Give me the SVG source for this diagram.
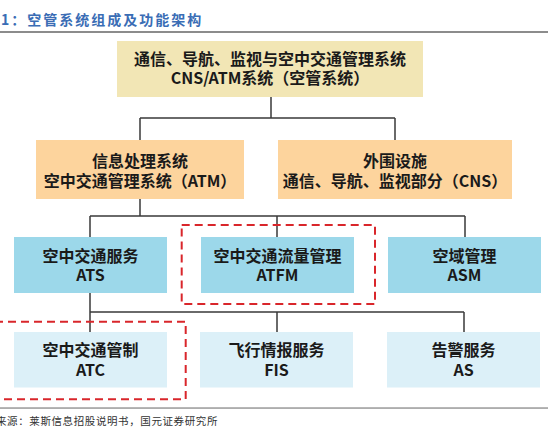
<svg xmlns="http://www.w3.org/2000/svg" width="548" height="435" viewBox="0 0 548 435">
<style>
.t{font-family:"Noto Sans CJK SC","Liberation Sans",sans-serif;font-weight:bold;font-size:16px;fill:#1a1a1a;text-anchor:middle}
.c{fill:none;stroke:#3a3a3a;stroke-width:1.5}
.d{fill:none;stroke:#d9262b;stroke-width:2;stroke-dasharray:8 5}
.title{font-family:"Noto Sans CJK SC","Liberation Sans",sans-serif;font-weight:bold;font-size:14px;fill:#3a6db5;letter-spacing:2px}
.src{font-family:"Noto Sans CJK SC","Liberation Sans",sans-serif;font-size:10.5px;fill:#333;letter-spacing:0.6px}
</style>
<rect width="548" height="435" fill="#fff"/>
<text class="title" x="1" y="25">1：空管系统组成及功能架构</text>
<rect x="0" y="31" width="548" height="2" fill="#8c8c8c"/>
<g id="connectors">
<path class="c" d="M271 97V118M140 118H395M140 118V140M395 118V140"/>
<path class="c" d="M140 199V216M90 216H465M90 216V237M277 216V237M465 216V237"/>
<path class="c" d="M90 293V312M90 312H464M90 312V332M277 312V332M464 312V332"/>
</g>
<g id="root">
<rect x="117" y="41" width="306" height="56" fill="#f2e6b5"/>
<text class="t" x="270" y="65">通信、导航、监视与空中交通管理系统</text>
<text class="t" x="270" y="84">CNS/ATM系统（空管系统）</text>
</g>
<g id="atm">
<rect x="36" y="140" width="208" height="59" fill="#fdd49d"/>
<text class="t" x="140" y="167">信息处理系统</text>
<text class="t" x="140" y="187">空中交通管理系统（ATM）</text>
</g>
<g id="cns">
<rect x="278" y="140" width="234" height="59" fill="#fdd49d"/>
<text class="t" x="395" y="167">外围设施</text>
<text class="t" x="395" y="187">通信、导航、监视部分（CNS）</text>
</g>
<g id="ats">
<rect x="14" y="237" width="153" height="56" fill="#9cd8ea"/>
<text class="t" x="90.5" y="262">空中交通服务</text>
<text class="t" x="90.5" y="281">ATS</text>
</g>
<g id="atfm">
<rect x="201" y="237" width="153" height="56" fill="#9cd8ea"/>
<text class="t" x="277.5" y="262">空中交通流量管理</text>
<text class="t" x="277.5" y="281">ATFM</text>
</g>
<g id="asm">
<rect x="388" y="237" width="153" height="56" fill="#9cd8ea"/>
<text class="t" x="464.5" y="262">空域管理</text>
<text class="t" x="464.5" y="281">ASM</text>
</g>
<g id="atc">
<rect x="14" y="332" width="153" height="55.5" fill="#dcf0f8"/>
<text class="t" x="90.5" y="356">空中交通管制</text>
<text class="t" x="90.5" y="375.5">ATC</text>
</g>
<g id="fis">
<rect x="200" y="332" width="153" height="55.5" fill="#dcf0f8"/>
<text class="t" x="276.5" y="356">飞行情报服务</text>
<text class="t" x="276.5" y="375.5">FIS</text>
</g>
<g id="as">
<rect x="387" y="332" width="153" height="55.5" fill="#dcf0f8"/>
<text class="t" x="463.5" y="356">告警服务</text>
<text class="t" x="463.5" y="375.5">AS</text>
</g>
<rect class="d" x="181.7" y="225" width="193.3" height="79"/>
<rect class="d" x="-5" y="321.7" width="190.7" height="77.6"/>
<rect x="0" y="407.3" width="548" height="1.5" fill="#999"/>
<text class="src" x="-4" y="425">来源：莱斯信息招股说明书，国元证券研究所</text>
</svg>
